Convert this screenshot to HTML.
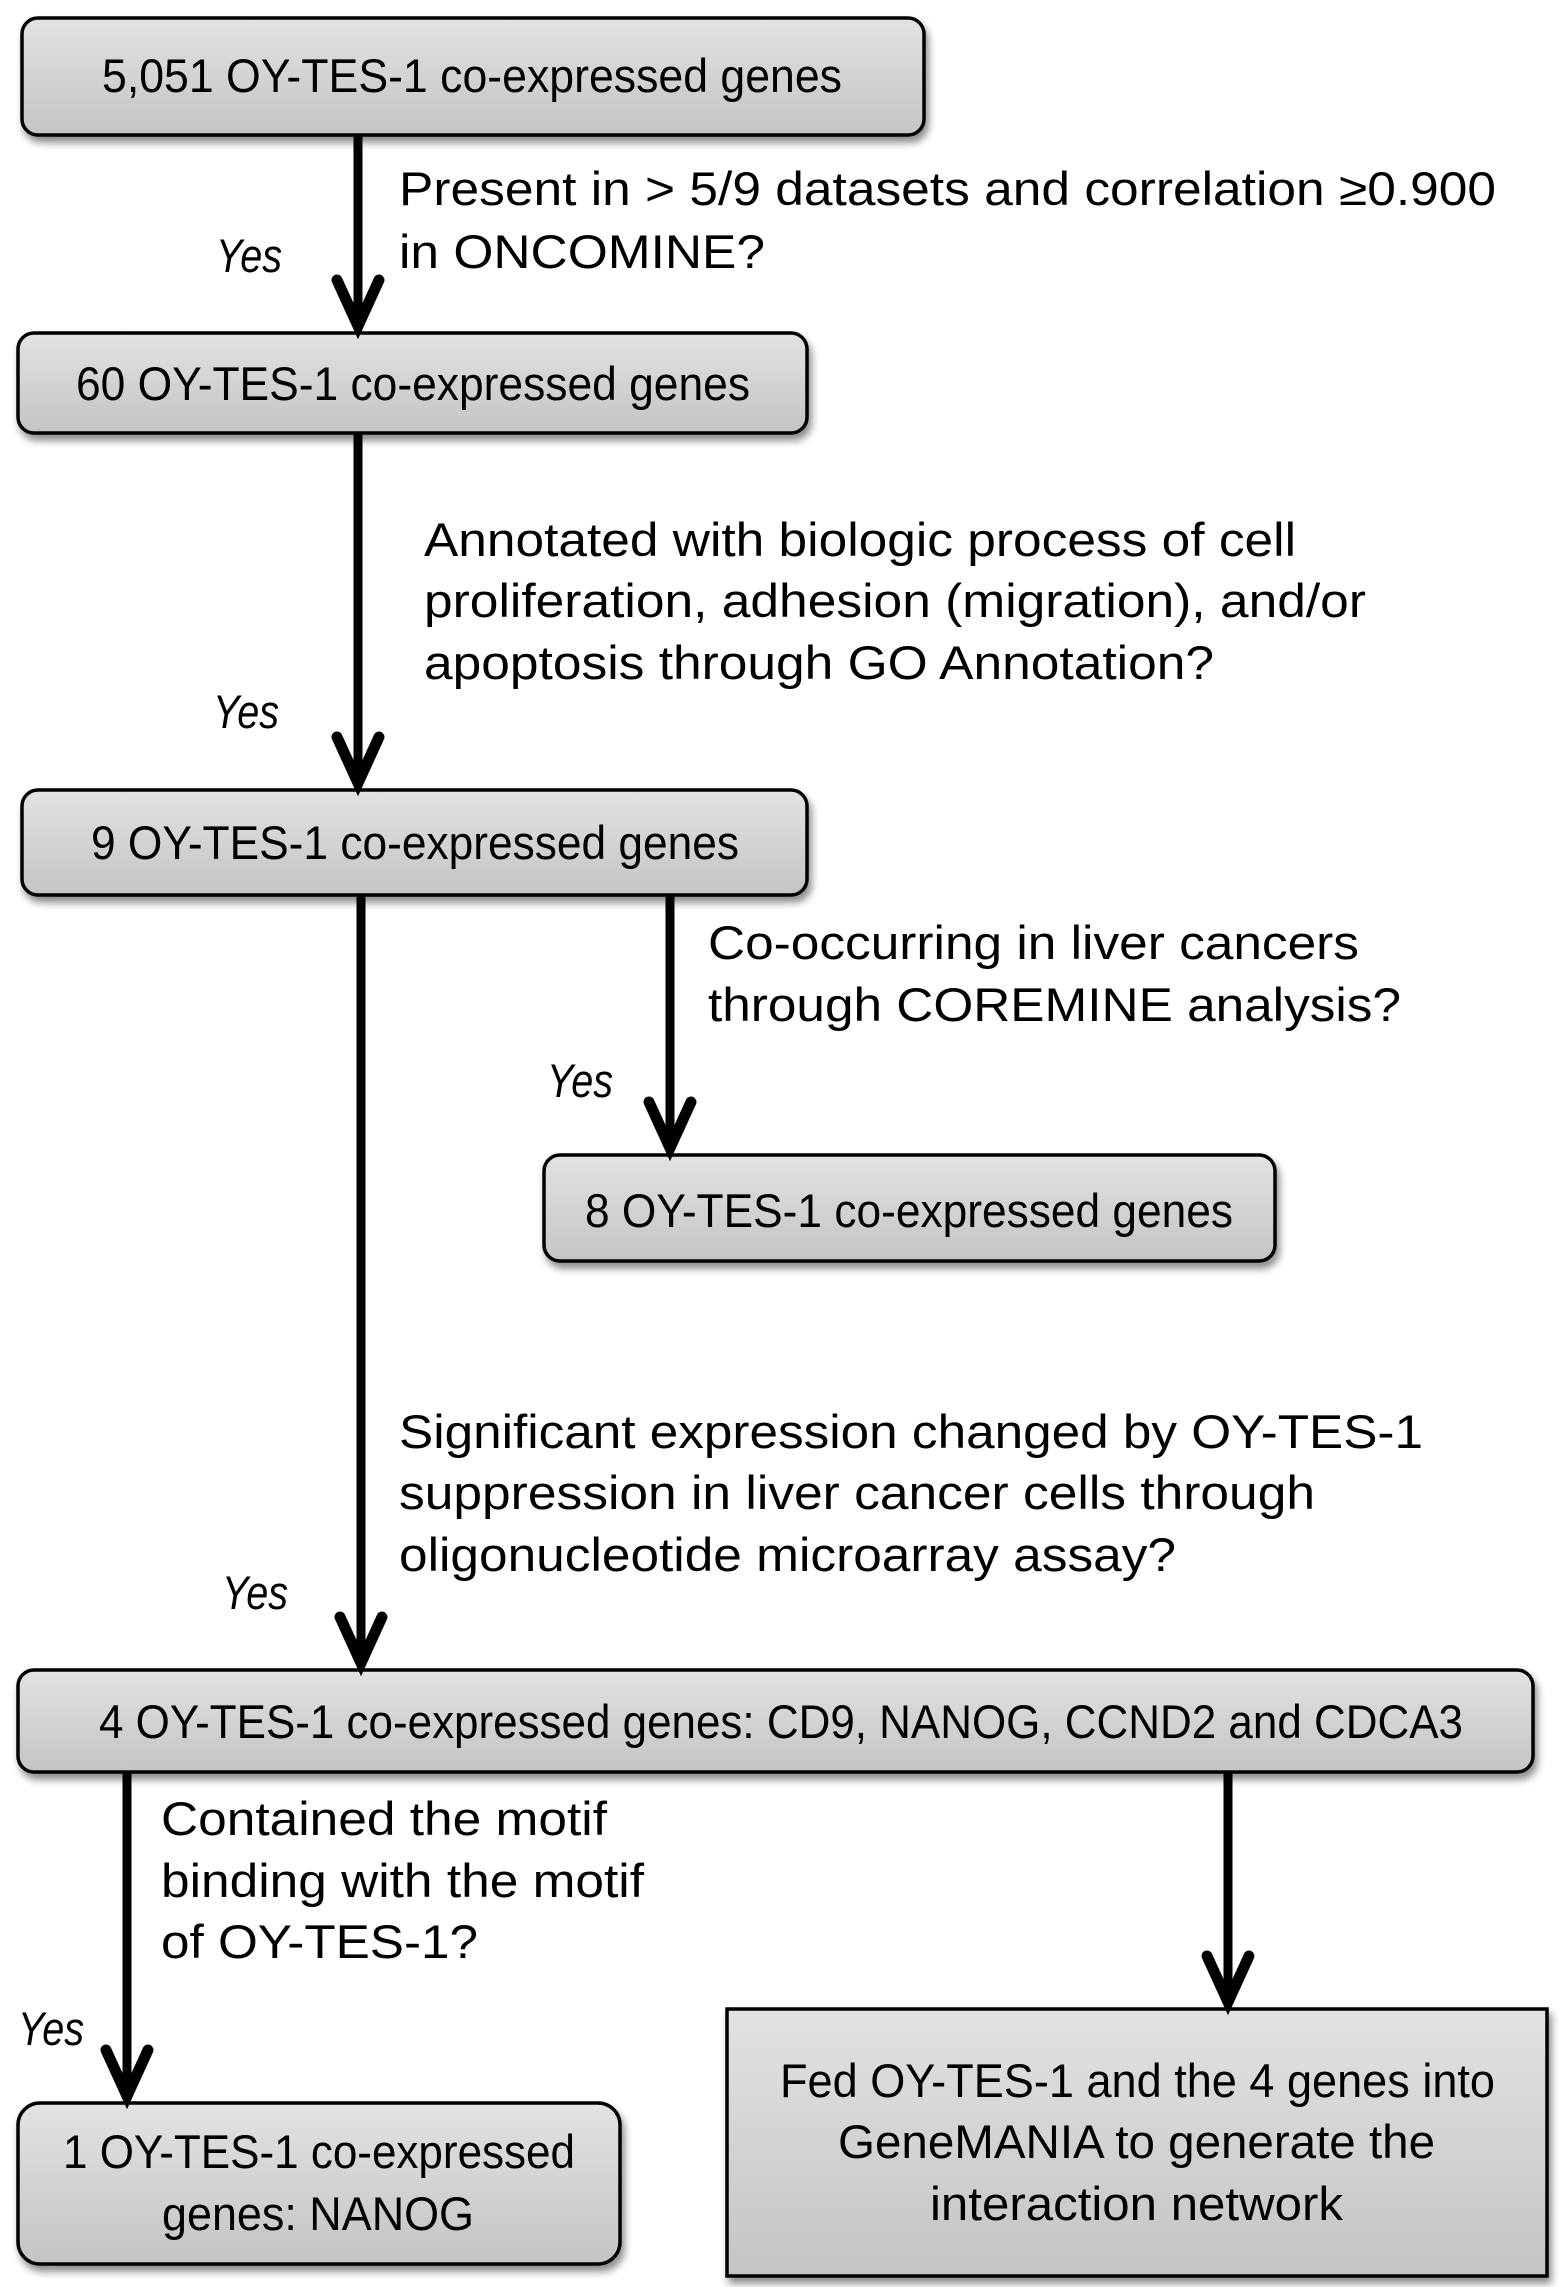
<!DOCTYPE html>
<html><head><meta charset="utf-8"><style>html,body{margin:0;padding:0;background:#fff}svg{display:block}</style></head>
<body>
<svg width="1559" height="2287" viewBox="0 0 1559 2287" xmlns="http://www.w3.org/2000/svg">
<defs>
<linearGradient id="g" x1="0" y1="0" x2="0" y2="1"><stop offset="0" stop-color="#e2e2e2"/><stop offset="1" stop-color="#c4c4c4"/></linearGradient>
<filter id="sh" x="-5%" y="-20%" width="110%" height="150%"><feDropShadow dx="3" dy="6" stdDeviation="4" flood-color="#000" flood-opacity="0.45"/></filter>
</defs>
<g fill="url(#g)" stroke="#000" stroke-width="3.5" filter="url(#sh)">
<rect x="22" y="18" width="902" height="117" rx="16"/>
<rect x="18" y="333" width="789" height="100" rx="16"/>
<rect x="22" y="790" width="785" height="105" rx="16"/>
<rect x="544" y="1155" width="731" height="106" rx="16"/>
<rect x="18" y="1670" width="1515" height="102" rx="16"/>
<rect x="18" y="2103" width="602" height="161" rx="22"/>
<rect x="727" y="2009" width="820" height="267"/>
</g>
<g stroke="#000" stroke-width="9" fill="none">
<line x1="358" y1="135" x2="358" y2="326"/>
<line x1="358" y1="433" x2="358" y2="783"/>
<line x1="361" y1="895" x2="361" y2="1663"/>
<line x1="670" y1="895" x2="670" y2="1148"/>
<line x1="127" y1="1772" x2="127" y2="2096"/>
<line x1="1228" y1="1772" x2="1228" y2="2002"/>
</g>
<g stroke="#000" stroke-width="11" fill="none" stroke-linejoin="miter" stroke-linecap="round">
<polyline points="337,280 358,326 379,280"/>
<polyline points="337,737 358,783 379,737"/>
<polyline points="340,1617 361,1663 382,1617"/>
<polyline points="649,1102 670,1148 691,1102"/>
<polyline points="106,2050 127,2096 148,2050"/>
<polyline points="1207,1956 1228,2002 1249,1956"/>
</g>
<g font-family="Liberation Sans Narrow, Liberation Sans, sans-serif" font-size="47" fill="#000">
<text x="102" y="92" textLength="740" lengthAdjust="spacingAndGlyphs">5,051 OY-TES-1 co-expressed genes</text>
<text x="76" y="400" textLength="674" lengthAdjust="spacingAndGlyphs">60 OY-TES-1 co-expressed genes</text>
<text x="91" y="859" textLength="648" lengthAdjust="spacingAndGlyphs">9 OY-TES-1 co-expressed genes</text>
<text x="585" y="1227" textLength="648" lengthAdjust="spacingAndGlyphs">8 OY-TES-1 co-expressed genes</text>
<text x="99" y="1738" textLength="1364" lengthAdjust="spacingAndGlyphs">4 OY-TES-1 co-expressed genes: CD9, NANOG, CCND2 and CDCA3</text>
<text x="63" y="2168" textLength="512" lengthAdjust="spacingAndGlyphs">1 OY-TES-1 co-expressed</text>
<text x="162" y="2230" textLength="312" lengthAdjust="spacingAndGlyphs">genes: NANOG</text>
<text x="780" y="2097" textLength="715" lengthAdjust="spacingAndGlyphs">Fed OY-TES-1 and the 4 genes into</text>
<text x="838" y="2158" textLength="597" lengthAdjust="spacingAndGlyphs">GeneMANIA to generate the</text>
<text x="930" y="2220" textLength="413" lengthAdjust="spacingAndGlyphs">interaction network</text>
</g>
<g font-family="Liberation Sans Narrow, Liberation Sans, sans-serif" font-size="47" font-style="italic" fill="#000">
<text x="216" y="272" textLength="66" lengthAdjust="spacingAndGlyphs">Yes</text>
<text x="213" y="728" textLength="66" lengthAdjust="spacingAndGlyphs">Yes</text>
<text x="547" y="1097" textLength="66" lengthAdjust="spacingAndGlyphs">Yes</text>
<text x="222" y="1609" textLength="66" lengthAdjust="spacingAndGlyphs">Yes</text>
<text x="18" y="2045" textLength="66" lengthAdjust="spacingAndGlyphs">Yes</text>
</g>
<g font-family="Liberation Sans, sans-serif" font-size="47" fill="#000">
<text x="399" y="205" textLength="1097" lengthAdjust="spacingAndGlyphs">Present in &gt; 5/9 datasets and correlation ≥0.900</text>
<text x="399" y="268" textLength="366" lengthAdjust="spacingAndGlyphs">in ONCOMINE?</text>
<text x="424" y="556" textLength="872" lengthAdjust="spacingAndGlyphs">Annotated with biologic process of cell</text>
<text x="424" y="617" textLength="942" lengthAdjust="spacingAndGlyphs">proliferation, adhesion (migration), and/or</text>
<text x="424" y="679" textLength="790" lengthAdjust="spacingAndGlyphs">apoptosis through GO Annotation?</text>
<text x="708" y="959" textLength="651" lengthAdjust="spacingAndGlyphs">Co-occurring in liver cancers</text>
<text x="708" y="1021" textLength="693" lengthAdjust="spacingAndGlyphs">through COREMINE analysis?</text>
<text x="399" y="1448" textLength="1024" lengthAdjust="spacingAndGlyphs">Significant expression changed by OY-TES-1</text>
<text x="399" y="1509" textLength="916" lengthAdjust="spacingAndGlyphs">suppression in liver cancer cells through</text>
<text x="399" y="1571" textLength="777" lengthAdjust="spacingAndGlyphs">oligonucleotide microarray assay?</text>
<text x="161" y="1835" textLength="446" lengthAdjust="spacingAndGlyphs">Contained the motif</text>
<text x="161" y="1897" textLength="483" lengthAdjust="spacingAndGlyphs">binding with the motif</text>
<text x="161" y="1958" textLength="317" lengthAdjust="spacingAndGlyphs">of OY-TES-1?</text>
</g>
</svg>
</body></html>
